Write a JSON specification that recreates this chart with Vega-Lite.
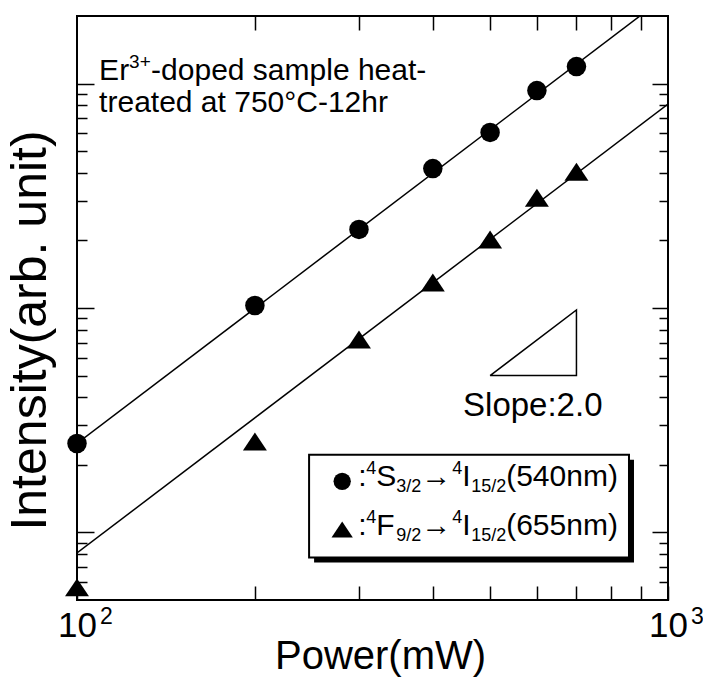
{
  "$schema": "https://vega.github.io/schema/vega-lite/v6.json",
  "width": 591,
  "height": 584,
  "autosize": {"type": "none"},
  "padding": {"left": 77, "top": 16, "right": 35, "bottom": 80},
  "background": "white",
  "config": {
    "font": "Liberation Sans",
    "view": {"stroke": "black", "strokeWidth": 2},
    "text": {"font": "Liberation Sans", "color": "black"},
    "axis": {
      "domain": false,
      "grid": false,
      "tickColor": "black",
      "tickWidth": 1.5,
      "labelColor": "black",
      "titleColor": "black",
      "titleFontWeight": "normal",
      "labelFont": "Liberation Sans",
      "titleFont": "Liberation Sans"
    }
  },
  "datasets": {
    "points": [
      {"P": 100, "I": 24.9, "series": "540"},
      {"P": 200, "I": 102.6, "series": "540"},
      {"P": 300, "I": 224, "series": "540"},
      {"P": 400, "I": 418, "series": "540"},
      {"P": 500, "I": 606, "series": "540"},
      {"P": 600, "I": 931, "series": "540"},
      {"P": 700, "I": 1191, "series": "540"},
      {"P": 100, "I": 5.69, "series": "655"},
      {"P": 200, "I": 25.4, "series": "655"},
      {"P": 300, "I": 72.4, "series": "655"},
      {"P": 400, "I": 130, "series": "655"},
      {"P": 500, "I": 202, "series": "655"},
      {"P": 600, "I": 310, "series": "655"},
      {"P": 700, "I": 405, "series": "655"}
    ],
    "fits": [
      {"P": 100, "I": 24.9, "series": "540"},
      {"P": 1000, "I": 2490, "series": "540"},
      {"P": 100, "I": 8.1, "series": "655"},
      {"P": 1000, "I": 810, "series": "655"}
    ],
    "slope": [
      {"P": 500, "I": 50, "o": 1},
      {"P": 700, "I": 50, "o": 2},
      {"P": 700, "I": 98, "o": 3},
      {"P": 500, "I": 50, "o": 4}
    ],
    "legend": [
      {"series": "540", "P": 281, "I": 16.9, "level": "S", "sub": "3/2", "wave": "(540nm)"},
      {"series": "655", "P": 281, "I": 10.3, "level": "F", "sub": "9/2", "wave": "(655nm)"}
    ],
    "exponents": [
      {"P": 100, "exp": "2"},
      {"P": 1000, "exp": "3"}
    ],
    "one": [{}]
  },
  "resolve": {"axis": {"x": "independent", "y": "independent"}},
  "layer": [
    {
      "data": {"name": "fits"},
      "mark": {"type": "line", "color": "black", "strokeWidth": 1.5, "clip": true},
      "encoding": {
        "x": {
          "field": "P", "type": "quantitative",
          "scale": {"type": "log", "domain": [100, 1000], "nice": false},
          "axis": {
            "orient": "bottom",
            "values": [100, 200, 300, 400, 500, 600, 700, 800, 900, 1000],
            "labelExpr": "datum.value == 100 || datum.value == 1000 ? '10' : ''",
            "tickSize": -14,
            "labelFontSize": 35,
            "labelBaseline": "alphabetic",
            "labelAlign": "center",
            "labelPadding": 50,
            "labelDx": 3,
            "labelFlush": false,
            "labelOverlap": false,
            "title": "Power(mW)",
            "titleFontSize": 40,
            "titleBaseline": "alphabetic",
            "titleAlign": "center",
            "titleAnchor": "start",
            "titleX": 303,
            "titleY": 68
          }
        },
        "y": {
          "field": "I", "type": "quantitative",
          "scale": {"type": "log", "domain": [5, 2000], "nice": false},
          "axis": {
            "orient": "left",
            "values": [6, 7, 8, 9, 10, 20, 30, 40, 50, 60, 70, 80, 90, 100, 200, 300, 400, 500, 600, 700, 800, 900, 1000],
            "labels": false,
            "tickSize": {"condition": {"test": "abs(log(datum.value)/LN10 - round(log(datum.value)/LN10)) < 0.001", "value": -17}, "value": -10},
            "title": "Intensity(arb. unit)",
            "titleFontSize": 50,
            "titleAngle": 270,
            "titleBaseline": "alphabetic",
            "titleAlign": "center",
            "titleAnchor": "start",
            "titleX": -32,
            "titleY": 314
          }
        },
        "detail": {"field": "series"}
      }
    },
    {
      "data": {"name": "points"},
      "mark": {"type": "point", "filled": true, "color": "black", "opacity": 1, "size": 380},
      "encoding": {
        "x": {"field": "P", "type": "quantitative", "axis": null},
        "y": {"field": "I", "type": "quantitative", "axis": null},
        "shape": {
          "field": "series", "type": "nominal",
          "scale": {"domain": ["540", "655"], "range": ["circle", "M-1.23,0.92L0,-0.92L1.23,0.92Z"]},
          "legend": null
        }
      }
    },
    {
      "data": {"name": "slope"},
      "mark": {"type": "line", "color": "black", "strokeWidth": 1.5},
      "encoding": {
        "x": {"field": "P", "type": "quantitative", "axis": null},
        "y": {"field": "I", "type": "quantitative", "axis": null},
        "order": {"field": "o", "type": "quantitative"}
      }
    },
    {
      "data": {"name": "exponents"},
      "mark": {"type": "text", "align": "left", "baseline": "alphabetic", "dx": 23, "dy": 24, "fontSize": 23},
      "encoding": {
        "x": {"field": "P", "type": "quantitative", "axis": null},
        "y": {"datum": 5, "type": "quantitative", "axis": null},
        "text": {"field": "exp"}
      }
    },
    {
      "data": {"name": "one"},
      "mark": {"type": "text", "text": "Er", "align": "left", "baseline": "alphabetic", "fontSize": 30},
      "encoding": {
        "x": {"datum": 109, "type": "quantitative", "axis": null},
        "y": {"datum": 1040, "type": "quantitative", "axis": null}
      }
    },
    {
      "data": {"name": "one"},
      "mark": {"type": "text", "text": "3+", "align": "left", "baseline": "alphabetic", "dx": 30, "dy": -12, "fontSize": 19},
      "encoding": {
        "x": {"datum": 109, "type": "quantitative", "axis": null},
        "y": {"datum": 1040, "type": "quantitative", "axis": null}
      }
    },
    {
      "data": {"name": "one"},
      "mark": {"type": "text", "text": "-doped sample heat-", "align": "left", "baseline": "alphabetic", "dx": 52, "fontSize": 30},
      "encoding": {
        "x": {"datum": 109, "type": "quantitative", "axis": null},
        "y": {"datum": 1040, "type": "quantitative", "axis": null}
      }
    },
    {
      "data": {"name": "one"},
      "mark": {"type": "text", "text": "treated at 750°C-12hr", "align": "left", "baseline": "alphabetic", "fontSize": 30},
      "encoding": {
        "x": {"datum": 109, "type": "quantitative", "axis": null},
        "y": {"datum": 750, "type": "quantitative", "axis": null}
      }
    },
    {
      "data": {"name": "one"},
      "mark": {"type": "text", "text": "Slope:2.0", "align": "left", "baseline": "alphabetic", "fontSize": 33},
      "encoding": {
        "x": {"datum": 450, "type": "quantitative", "axis": null},
        "y": {"datum": 32.9, "type": "quantitative", "axis": null}
      }
    },
    {
      "data": {"name": "one"},
      "mark": {"type": "rect", "fill": "black", "xOffset": 5, "x2Offset": 5, "yOffset": 5, "y2Offset": 5},
      "encoding": {
        "x": {"datum": 247, "type": "quantitative", "axis": null},
        "x2": {"datum": 859},
        "y": {"datum": 22.2, "type": "quantitative", "axis": null},
        "y2": {"datum": 7.74}
      }
    },
    {
      "data": {"name": "one"},
      "mark": {"type": "rect", "fill": "white", "stroke": "black", "strokeWidth": 2},
      "encoding": {
        "x": {"datum": 247, "type": "quantitative", "axis": null},
        "x2": {"datum": 859},
        "y": {"datum": 22.2, "type": "quantitative", "axis": null},
        "y2": {"datum": 7.74}
      }
    },
    {
      "data": {"name": "legend"},
      "mark": {"type": "point", "filled": true, "color": "black", "opacity": 1, "size": 300},
      "encoding": {
        "x": {"field": "P", "type": "quantitative", "axis": null},
        "y": {"field": "I", "type": "quantitative", "axis": null},
        "shape": {"field": "series", "type": "nominal", "legend": null}
      }
    },
    {
      "data": {"name": "legend"},
      "mark": {"type": "text", "text": ":", "align": "left", "baseline": "alphabetic", "dx": 16, "dy": 5, "fontSize": 30},
      "encoding": {"x": {"field": "P", "type": "quantitative", "axis": null}, "y": {"field": "I", "type": "quantitative", "axis": null}}
    },
    {
      "data": {"name": "legend"},
      "mark": {"type": "text", "text": "4", "align": "left", "baseline": "alphabetic", "dx": 24, "dy": -7, "fontSize": 18},
      "encoding": {"x": {"field": "P", "type": "quantitative", "axis": null}, "y": {"field": "I", "type": "quantitative", "axis": null}}
    },
    {
      "data": {"name": "legend"},
      "mark": {"type": "text", "align": "left", "baseline": "alphabetic", "dx": 34, "dy": 5, "fontSize": 30},
      "encoding": {"x": {"field": "P", "type": "quantitative", "axis": null}, "y": {"field": "I", "type": "quantitative", "axis": null}, "text": {"field": "level"}}
    },
    {
      "data": {"name": "legend"},
      "mark": {"type": "text", "align": "left", "baseline": "alphabetic", "dx": 54, "dy": 11, "fontSize": 18},
      "encoding": {"x": {"field": "P", "type": "quantitative", "axis": null}, "y": {"field": "I", "type": "quantitative", "axis": null}, "text": {"field": "sub"}}
    },
    {
      "data": {"name": "legend"},
      "mark": {"type": "text", "text": "→", "align": "left", "baseline": "alphabetic", "dx": 79, "dy": 5, "fontSize": 30},
      "encoding": {"x": {"field": "P", "type": "quantitative", "axis": null}, "y": {"field": "I", "type": "quantitative", "axis": null}}
    },
    {
      "data": {"name": "legend"},
      "mark": {"type": "text", "text": "4", "align": "left", "baseline": "alphabetic", "dx": 110, "dy": -7, "fontSize": 18},
      "encoding": {"x": {"field": "P", "type": "quantitative", "axis": null}, "y": {"field": "I", "type": "quantitative", "axis": null}}
    },
    {
      "data": {"name": "legend"},
      "mark": {"type": "text", "text": "I", "align": "left", "baseline": "alphabetic", "dx": 120, "dy": 5, "fontSize": 30},
      "encoding": {"x": {"field": "P", "type": "quantitative", "axis": null}, "y": {"field": "I", "type": "quantitative", "axis": null}}
    },
    {
      "data": {"name": "legend"},
      "mark": {"type": "text", "text": "15/2", "align": "left", "baseline": "alphabetic", "dx": 129, "dy": 11, "fontSize": 18},
      "encoding": {"x": {"field": "P", "type": "quantitative", "axis": null}, "y": {"field": "I", "type": "quantitative", "axis": null}}
    },
    {
      "data": {"name": "legend"},
      "mark": {"type": "text", "align": "left", "baseline": "alphabetic", "dx": 164, "dy": 5, "fontSize": 30},
      "encoding": {"x": {"field": "P", "type": "quantitative", "axis": null}, "y": {"field": "I", "type": "quantitative", "axis": null}, "text": {"field": "wave"}}
    },
    {
      "data": {"name": "points"},
      "mark": {"type": "point", "opacity": 0},
      "encoding": {
        "x": {
          "field": "P", "type": "quantitative",
          "axis": {
            "orient": "top",
            "values": [200, 300, 400, 500, 600, 700, 800, 900],
            "labels": false,
            "tickSize": -14,
            "title": null
          }
        },
        "y": {
          "field": "I", "type": "quantitative",
          "axis": {
            "orient": "right",
            "values": [6, 7, 8, 9, 10, 20, 30, 40, 50, 60, 70, 80, 90, 100, 200, 300, 400, 500, 600, 700, 800, 900, 1000],
            "labels": false,
            "tickSize": {"condition": {"test": "abs(log(datum.value)/LN10 - round(log(datum.value)/LN10)) < 0.001", "value": -16}, "value": -9},
            "title": null
          }
        }
      }
    }
  ]
}
